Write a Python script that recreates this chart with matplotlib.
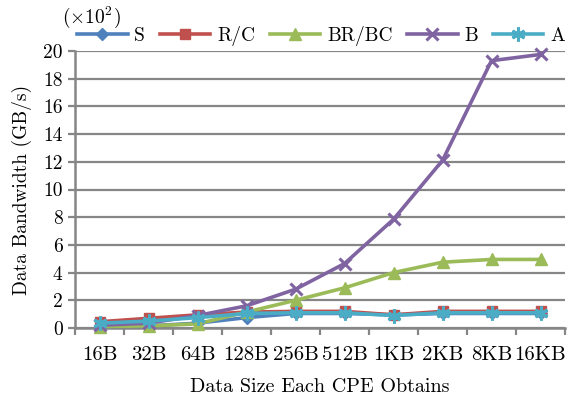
import matplotlib
matplotlib.use("Agg")
import matplotlib.pyplot as plt
import numpy as np

plt.rcParams['font.family'] = 'serif'
plt.rcParams['font.serif'] = ['cmr10', 'DejaVu Serif']
plt.rcParams['mathtext.fontset'] = 'cm'
plt.rcParams['axes.unicode_minus'] = False
plt.rcParams['axes.formatter.use_mathtext'] = True

categories = ["16B", "32B", "64B", "128B", "256B", "512B", "1KB", "2KB", "8KB", "16KB"]
S = [0.1, 0.15, 0.35, 0.75, 1.05, 1.05, 0.95, 1.05, 1.05, 1.05]
RC = [0.45, 0.7, 0.95, 1.15, 1.2, 1.2, 0.95, 1.2, 1.2, 1.2]
BRBC = [0.1, 0.15, 0.3, 1.15, 2.0, 2.9, 4.0, 4.75, 4.95, 4.95]
B = [0.2, 0.35, 0.9, 1.6, 2.8, 4.65, 7.85, 12.1, 19.3, 19.75]
A = [0.35, 0.5, 0.75, 1.05, 1.1, 1.1, 0.9, 1.1, 1.1, 1.1]
series_names = ["S", "R/C", "BR/BC", "B", "A"]
y_ticks = [0, 2, 4, 6, 8, 10, 12, 14, 16, 18, 20]

colors = ["#4F81BD", "#C0504D", "#9BBB59", "#8064A2", "#4BACC6"]
markers = ["D", "s", "^", "x", (6, 2, 0)]
msizes = [6, 7, 8, 9, 10]

fig = plt.figure(figsize=(5.79, 3.97), dpi=100)
ax = fig.add_axes([75/579, 1-328/397, (565-75)/579, (328-51)/397])

x = np.arange(len(categories))
for vals, name, c, m, ms in zip([S, RC, BRBC, B, A], series_names, colors, markers, msizes):
    ax.plot(x, vals, color=c, lw=2.6, marker=m, markersize=ms,
            markeredgewidth=2.2 if m in ("x",) or isinstance(m, tuple) else 1,
            markeredgecolor=c, label=name, clip_on=False, zorder=3)

ax.set_xlim(-0.5, len(categories) - 0.5)
ax.set_ylim(0, 20)
ax.set_yticks(y_ticks)
ax.set_yticklabels([str(v) for v in y_ticks])
ax.yaxis.grid(True, color="#868686", lw=1.6)
ax.set_axisbelow(True)
ax.set_xticks(x)
ax.set_xticklabels(categories)
ax.set_xticks(np.arange(-0.5, len(categories), 1.0), minor=True)
ax.tick_params(axis='x', which='major', length=0, pad=13, labelsize=15)
ax.tick_params(axis='x', which='minor', length=5, width=1.6, color="#868686", direction='out')
ax.tick_params(axis='y', length=5, width=1.6, color="#868686", labelsize=14, pad=4)
for sp in ["top", "right"]:
    ax.spines[sp].set_visible(False)
for sp in ["left", "bottom"]:
    ax.spines[sp].set_color("#868686")
    ax.spines[sp].set_linewidth(1.8)

ax.set_xlabel("Data Size Each CPE Obtains", fontsize=14.5, labelpad=10)
ax.set_ylabel("Data Bandwidth (GB/s)", fontsize=14, labelpad=8)

fig.text(62/579, 1-17/397, r"$(\times 10^2)$", fontsize=14, va="center", ha="left")

leg = ax.legend(loc="center left", ncol=5,
                frameon=False, fontsize=14, handlelength=2.6, columnspacing=0.75,
                handletextpad=0.35, borderaxespad=0, borderpad=0)
leg.set_bbox_to_anchor((2/490, 1 + 15/277), transform=ax.transAxes)

fig.savefig("out.png", dpi=100)
